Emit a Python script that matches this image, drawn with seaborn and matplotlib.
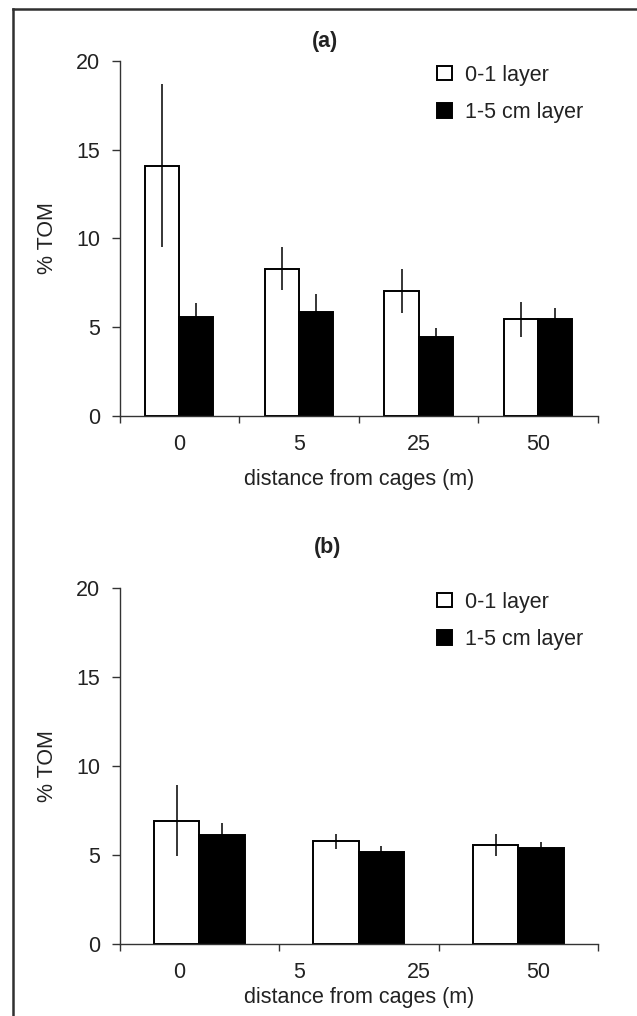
import numpy as np
import pandas as pd
import matplotlib
matplotlib.use("Agg")
import matplotlib.pyplot as plt
from matplotlib.lines import Line2D
import seaborn as sns

# ---------------- data ----------------
layers = ["0-1 layer", "1-5 cm layer"]

distance_a = ["0", "5", "25", "50"]
a_top = [14.1, 8.3, 7.05, 5.45]
a_top_err = [4.6, 1.2, 1.23, 1.0]
a_sub = [5.55, 5.85, 4.45, 5.45]
a_sub_err = [0.8, 1.0, 0.5, 0.62]

groups_b = ["0", "5/25", "50"]
b_tick_labels = ["0", "5", "25", "50"]
b_top = [6.9, 5.75, 5.55]
b_top_err = [2.0, 0.42, 0.6]
b_sub = [6.1, 5.15, 5.35]
b_sub_err = [0.7, 0.34, 0.36]

y_ticks = [0, 5, 10, 15, 20]

# ---------------- style ----------------
sns.set_theme(style="white")
plt.rcParams["font.family"] = ["Liberation Sans", "DejaVu Sans"]
FS = 15.5
TXT = "#222222"
AX = "#333333"

W, H = 637, 1016
fig = plt.figure(figsize=(W / 100, H / 100), dpi=100)

ax_a = fig.add_axes([119.5 / W, 1 - 416 / H, 478.5 / W, 355 / H])
ax_b = fig.add_axes([119.5 / W, 1 - 943.5 / H, 478.5 / W, 355.5 / H])


def make_df(cats, top, sub, top_err, sub_err):
    return pd.DataFrame({
        "distance": list(cats) * 2,
        "layer": [layers[0]] * len(cats) + [layers[1]] * len(cats),
        "tom": list(top) + list(sub),
        "err": list(top_err) + list(sub_err),
    })


def draw(ax, df, cats, tick_labels, label_y, title, title_x, title_y):
    sns.barplot(data=df, x="distance", y="tom", hue="layer", order=cats,
                hue_order=layers, palette={layers[0]: "white", layers[1]: "black"},
                edgecolor="black", linewidth=1.4, width=0.57, errorbar=None,
                legend=False, ax=ax, zorder=2)
    # error bars at the bar centres
    for cont, lay in zip(ax.containers, layers):
        sub = df[df["layer"] == lay].set_index("distance").loc[list(cats)]
        xs = [p.get_x() + p.get_width() / 2 for p in cont]
        hs = [p.get_height() for p in cont]
        ax.errorbar(xs, hs, yerr=sub["err"].values, fmt="none", ecolor="black",
                    elinewidth=1.1, capsize=0, zorder=3)

    n = len(cats)
    ax.set_xlim(-0.5, n - 0.5)
    ax.set_ylim(0, 20)
    ax.set_yticks(y_ticks)
    ax.set_yticklabels([str(v) for v in y_ticks])
    # major ticks at category boundaries (no labels)
    ax.set_xticks(np.arange(n + 1) - 0.5)
    ax.set_xticklabels([""] * (n + 1))
    # labels as minor ticks, evenly spaced
    m = len(tick_labels)
    pos = -0.5 + (np.arange(m) + 0.5) * n / m
    ax.set_xticks(pos, minor=True)
    ax.set_xticklabels(tick_labels, minor=True)

    ax.tick_params(axis="x", which="major", direction="out", length=5, width=1,
                   color=AX, bottom=True)
    ax.tick_params(axis="x", which="minor", length=0, pad=13, labelsize=FS,
                   labelcolor=TXT, bottom=True)
    ax.tick_params(axis="y", which="major", direction="out", length=6, width=1,
                   color=AX, pad=8, labelsize=FS, labelcolor=TXT, left=True)

    for s in ["top", "right"]:
        ax.spines[s].set_visible(False)
    for s in ["left", "bottom"]:
        ax.spines[s].set_color(AX)
        ax.spines[s].set_linewidth(1.0)

    ax.set_ylabel("% TOM", fontsize=FS, color=TXT)
    ax.yaxis.set_label_coords(-0.128, 0.5)
    ax.set_xlabel("distance from cages (m)", fontsize=FS, color=TXT)
    ax.xaxis.set_label_coords(0.5, label_y)

    ax.legend([c[0] for c in ax.containers], layers, loc="upper left",
              bbox_to_anchor=(0.6635, 0.99), frameon=False, fontsize=FS,
              handlelength=0.68, handleheight=0.68, handletextpad=0.6,
              labelspacing=0.75, borderpad=0, borderaxespad=0, labelcolor=TXT)
    ax.set_facecolor("white")
    fig.text(title_x, title_y, title, ha="center", va="center", fontsize=FS,
             fontweight="bold", color=TXT)


df_a = make_df(distance_a, a_top, a_sub, a_top_err, a_sub_err)
df_b = make_df(groups_b, b_top, b_sub, b_top_err, b_sub_err)

draw(ax_a, df_a, distance_a, distance_a, -0.15, "(a)", 325 / W, 1 - 41 / H)
draw(ax_b, df_b, groups_b, b_tick_labels, -0.122, "(b)", 328 / W, 1 - 548 / H)

# outer frame (left and top edges)
fig.add_artist(Line2D([12.8 / W, 12.8 / W], [0, 1 - 8.7 / H], transform=fig.transFigure,
                      color="#303030", linewidth=1.8, solid_capstyle="projecting"))
fig.add_artist(Line2D([12.8 / W, 1], [1 - 8.7 / H, 1 - 8.7 / H], transform=fig.transFigure,
                      color="#303030", linewidth=1.8, solid_capstyle="projecting"))

fig.savefig("out.png", dpi=100, facecolor="white")
